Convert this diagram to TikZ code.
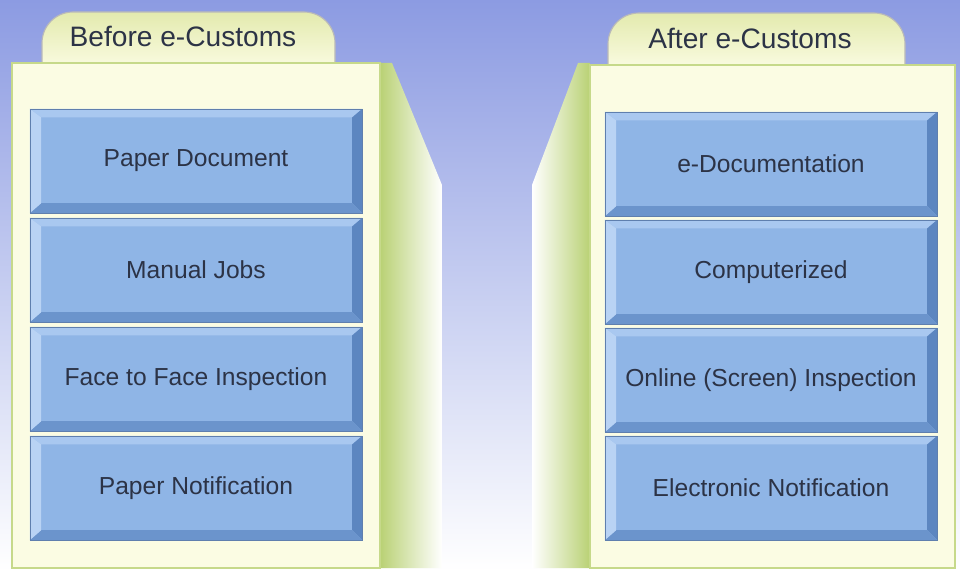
\documentclass[tikz,border=0pt]{standalone}
\usepackage{xcolor}
\usepackage{fontspec}
\setmainfont{Liberation Sans}
\usetikzlibrary{calc}

\definecolor{skyblue}{HTML}{8C9BE2}
\definecolor{skymid}{HTML}{B4BEEE}
\definecolor{cream}{HTML}{FBFCE3}
\definecolor{creamedge}{HTML}{C6D98A}
\definecolor{tabgreen}{HTML}{E3EAAE}
\definecolor{sidegreen}{HTML}{B9D174}
\definecolor{cellblue}{HTML}{8FB5E6}
\definecolor{celledge}{HTML}{5F7FAE}
\definecolor{bevtop}{HTML}{A9C8F0}
\definecolor{bevleft}{HTML}{B9D3F4}
\definecolor{bevright}{HTML}{5C86C0}
\definecolor{bevbottom}{HTML}{6B94CC}
\definecolor{inkdark}{HTML}{2C3346}

\begin{document}
\begin{tikzpicture}[x=0.025cm,y=-0.025cm,
  cell/.style={draw=celledge,line width=0.5pt,fill=cellblue,text=inkdark,
    font=\fontsize{17.5}{20}\selectfont,inner sep=0pt,
    minimum width=8.3cm,minimum height=2.6cm,
    path picture={
      \path (path picture bounding box.north west) coordinate (pnw)
            (path picture bounding box.south east) coordinate (pse);
      \fill[bevtop] (pnw) -- (pnw-|pse) -- ($(pnw-|pse)+(-7pt,-6pt)$) -- ($(pnw)+(8pt,-6pt)$) -- cycle;
      \fill[bevright] (pnw-|pse) -- (pse) -- ($(pse)+(-7pt,7pt)$) -- ($(pnw-|pse)+(-7pt,-6pt)$) -- cycle;
      \fill[bevbottom] (pse) -- (pse-|pnw) -- ($(pse-|pnw)+(8pt,7pt)$) -- ($(pse)+(-7pt,7pt)$) -- cycle;
      \fill[bevleft] (pse-|pnw) -- (pnw) -- ($(pnw)+(8pt,-6pt)$) -- ($(pse-|pnw)+(8pt,7pt)$) -- cycle;
    }},
  title/.style={text=inkdark,font=\fontsize{20}{24}\selectfont},
  tab/.style={draw=gray!55,line width=0.8pt,rounded corners=22,top color=tabgreen,bottom color=cream},
  front/.style={draw=creamedge,line width=2pt,fill=cream}]

% background
\useasboundingbox (0,0) rectangle (960,571);
\shade[top color=skyblue,middle color=skymid,bottom color=white] (0,0) rectangle (960,571);

% side faces
\shade[left color=sidegreen,right color=white] (380,63) -- (392,63) -- (442,185) -- (442,568) -- (380,568) -- cycle;
\shade[left color=white,right color=sidegreen] (590,63) -- (578,63) -- (532,185) -- (532,568) -- (590,568) -- cycle;

% tabs
\draw[tab] (42,70) -- (42,12) -- (335,12) -- (335,70);
\draw[tab] (608,70) -- (608,13) -- (905,13) -- (905,70);
\node[title] (Bt) at (183,36) {Before e-Customs};
\node[title] (At) at (750,38) {After e-Customs};

% panels
\draw[front] (12,63) rectangle (380,568);
\draw[front] (590,65) rectangle (955,568);

% before
\node[cell] (B1) at (196,161) {Paper Document};
\node[cell] (B2) at (196,270) {Manual Jobs};
\node[cell] (B3) at (196,379) {Face to Face Inspection};
\node[cell] (B4) at (196,488) {Paper Notification};

% after
\node[cell] (A1) at (771,164) {e-Documentation};
\node[cell] (A2) at (771,272) {Computerized};
\node[cell] (A3) at (771,380) {Online (Screen) Inspection};
\node[cell] (A4) at (771,488) {Electronic Notification};
\end{tikzpicture}
\end{document}
